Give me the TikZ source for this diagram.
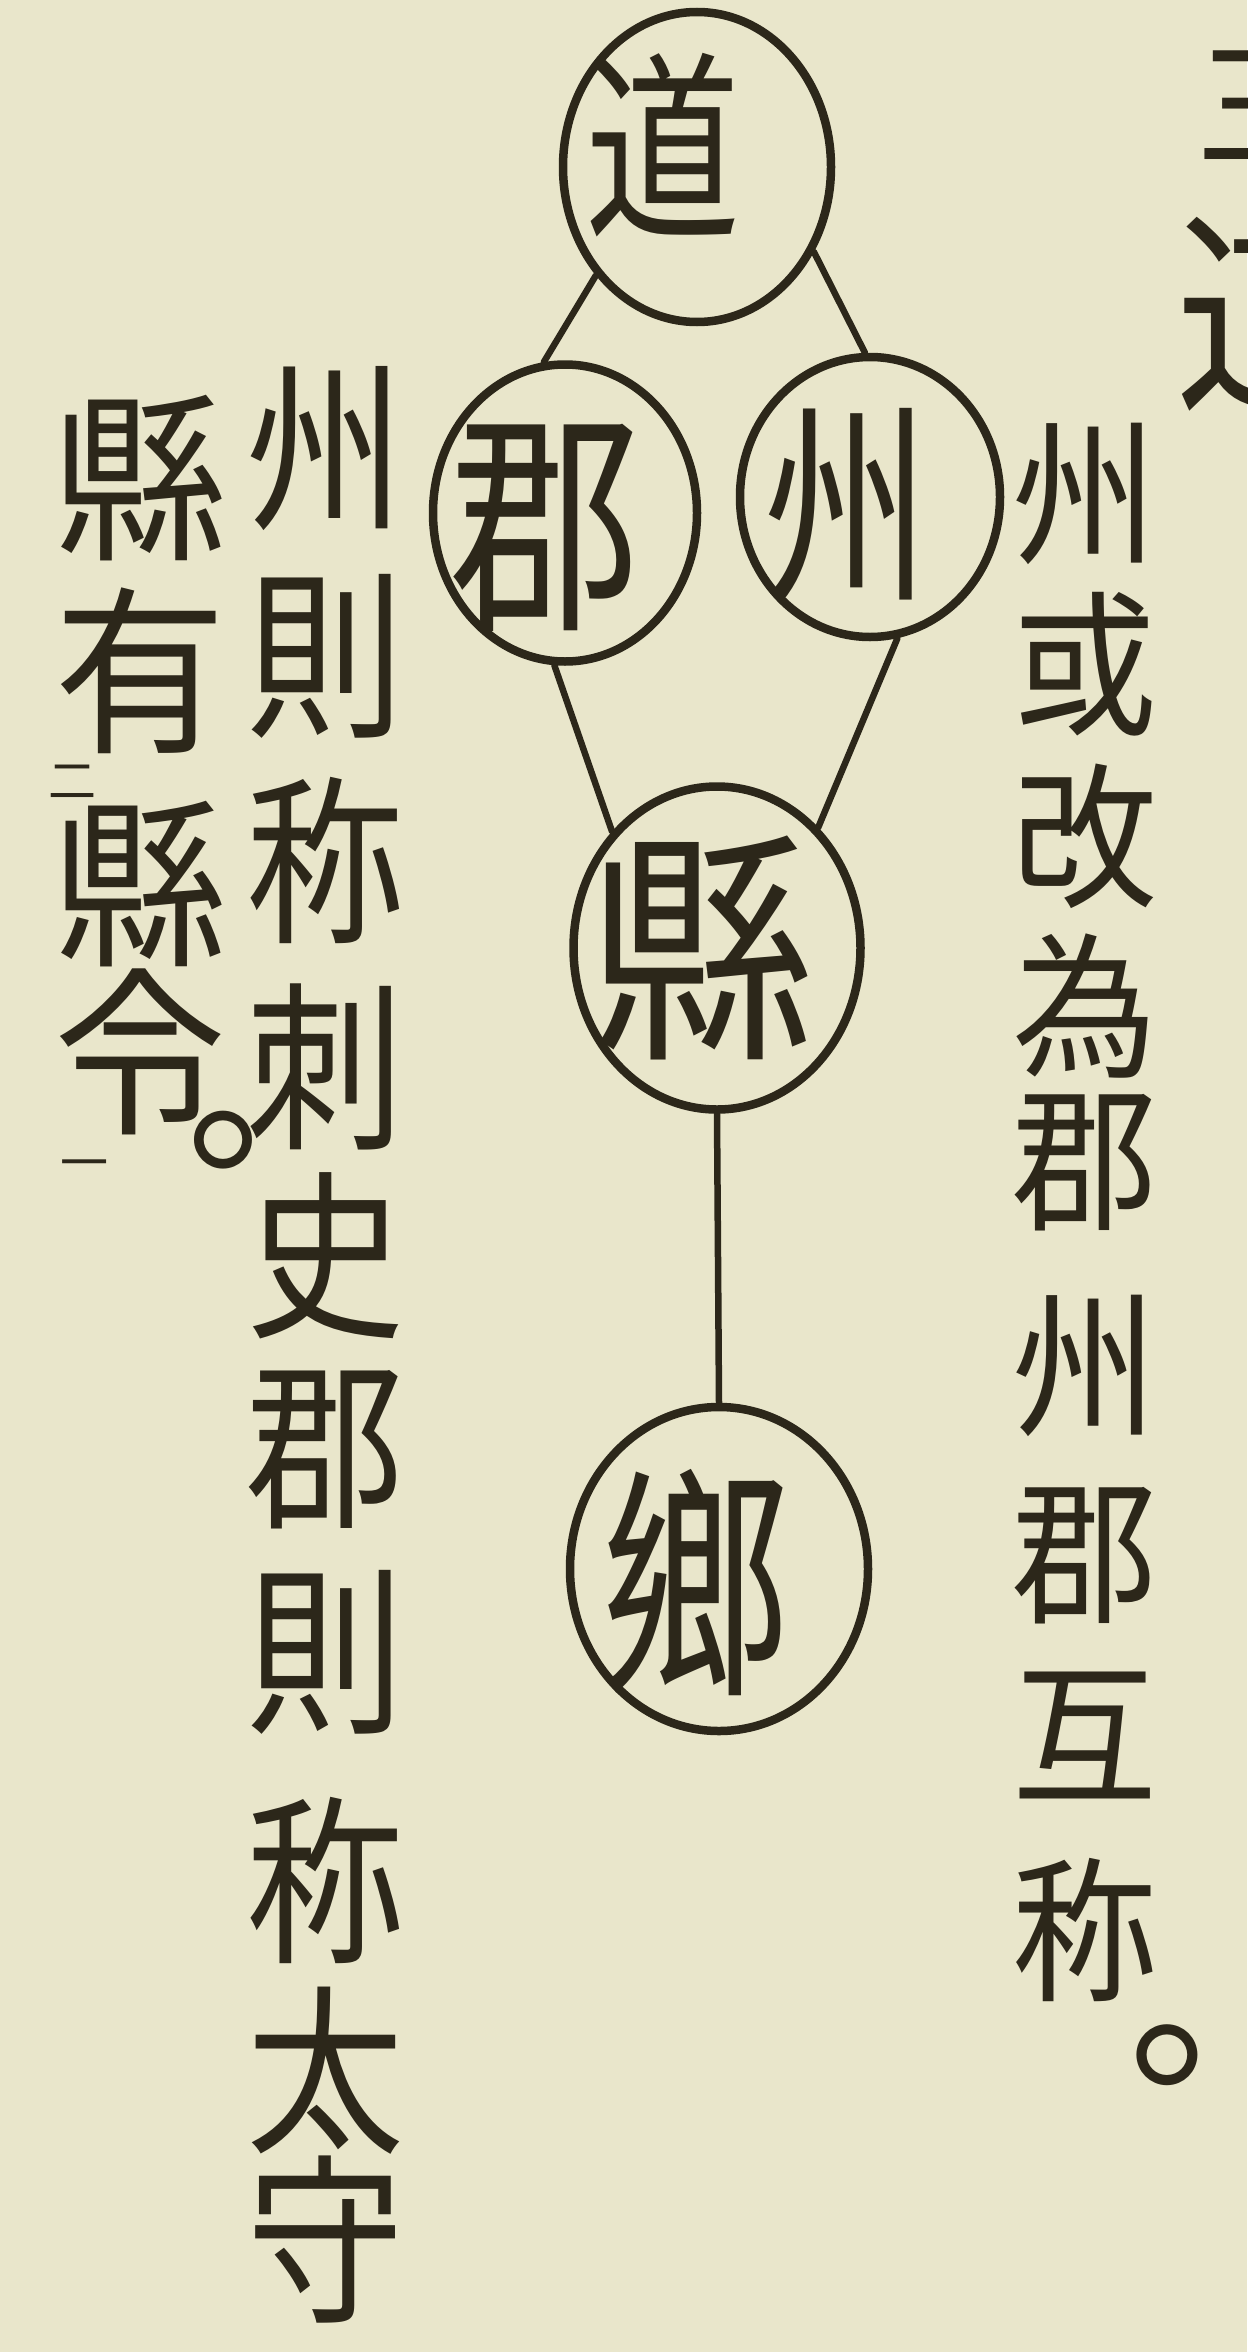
\documentclass[tikz,border=0pt]{standalone}
\usepackage{fontspec}
\usepackage{graphicx}
\newfontfamily\cjk{Noto Sans CJK JP}
\usetikzlibrary{shapes.geometric}
\definecolor{paper}{RGB}{233,230,203}
\definecolor{ink}{RGB}{44,39,26}
\newcommand\gl[3]{{\fontsize{#1}{#1}\selectfont\scalebox{1}[#2]{#3}}}
\newcommand\stopmark[1]{{\fontsize{#1}{#1}\selectfont\makebox[0.42em][l]{。}}}
\begin{document}
\begin{tikzpicture}[x=1pt,y=-1pt,
  unit/.style={draw=ink,line width=8.5pt,ellipse,inner sep=0pt},
  link/.style={draw=ink,line width=6.5pt,line cap=round},
  glyph/.style={text=ink,inner sep=0pt,font=\cjk}]
\useasboundingbox (0,0) rectangle (1247,2352);
\fill[paper] (0,0) rectangle (1247,2352);
\clip (0,0) rectangle (1247,2352);

% circles
\node[unit,minimum width=268,minimum height=310] (dao) at (697,167) {};
\node[unit,minimum width=264,minimum height=297] (jun) at (565,513) {};
\node[unit,minimum width=260,minimum height=280] (zhou) at (870,497) {};
\node[unit,minimum width=287,minimum height=323] (xian) at (717,948) {};
\node[unit,minimum width=298,minimum height=324] (xiang) at (719,1569) {};

% characters in circles
\node[glyph] (daoT) at (663,145) {\gl{155}{1.3}{道}};
\node[glyph] (junT) at (545,528) {\gl{190}{1.25}{郡}};
\node[glyph] (zhouT) at (847,505) {\gl{165}{1.3}{州}};
\node[glyph] (xianT) at (702,948) {\gl{222}{1.1}{縣}};
\node[glyph] (xiangT) at (695,1582) {\gl{190}{1.3}{鄉}};

% connectors
\draw[link] (dao.227) -- (jun.98);
\draw[link] (dao.324) -- (zhou.92);
\draw[link] (jun.266) -- (xian.132);
\draw[link] (zhou.281) -- (xian.50);
\draw[link] (xian.south) -- (xiang.north);

% right column
\foreach \ch/\y [count=\i] in {州/494,或/664,改/836,為/1006,郡/1163,州/1366,郡/1556,互/1735,称/1930}
  \node[glyph] (r\i) at (1085,\y) {\gl{145}{1.08}{\ch}};
\node[glyph] (rdot) at (1170,2055) {\stopmark{200}};

% left column 1
\foreach \ch/\y [count=\i] in {州/449,則/656,称/860,刺/1067,史/1256,郡/1450,則/1652,称/1880,太/2071,守/2240}
  \node[glyph] (a\i) at (325,\y) {\gl{158}{1.15}{\ch}};

% left column 2
\foreach \ch/\y [count=\i] in {縣/478,有/671,縣/884,令/1052}
  \node[glyph] (b\i) at (140,\y) {\gl{172}{1.05}{\ch}};
\node[glyph] (bdot) at (226,1140) {\stopmark{190}};
\node[glyph] (mk2) at (72,782) {\gl{48}{1}{二}};
\node[glyph] (mk1) at (84,1170) {\gl{48}{1}{一}};

% cut-off heading at top right
\node[glyph] (hd1) at (1268,105) {\gl{145}{1}{三}};
\node[glyph] (hd2) at (1270,312) {\gl{190}{1.15}{道}};
\end{tikzpicture}
\end{document}
